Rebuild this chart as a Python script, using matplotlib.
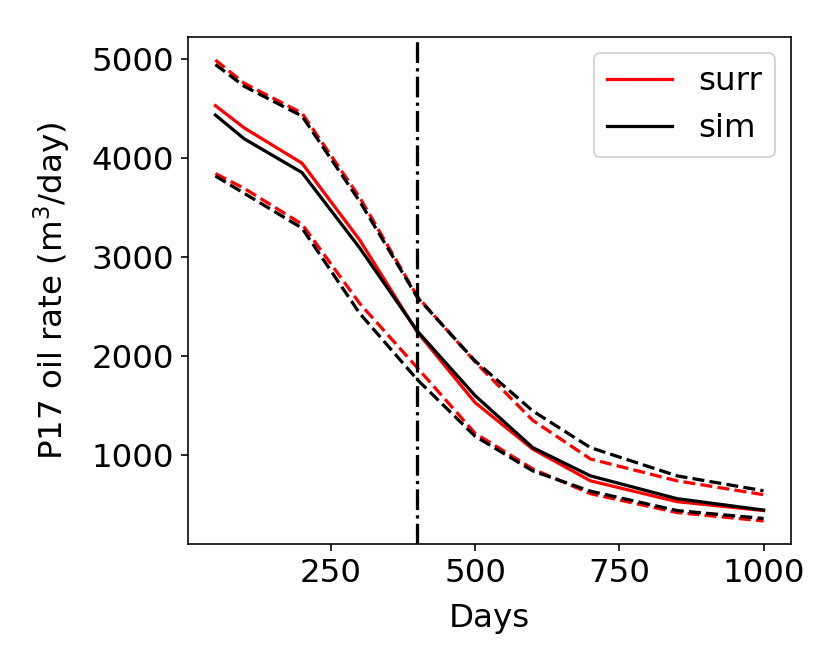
import matplotlib
matplotlib.use("Agg")
import matplotlib.pyplot as plt

days = [50, 100, 200, 300, 400, 500, 600, 700, 850, 1000]

surr_mean = [4525, 4300, 3945, 3170, 2240, 1530, 1060, 740, 530, 440]
surr_upper = [4985, 4750, 4450, 3600, 2600, 1940, 1350, 960, 740, 600]
surr_lower = [3840, 3690, 3330, 2530, 1880, 1220, 860, 610, 420, 335]

sim_mean = [4430, 4190, 3850, 3090, 2250, 1600, 1075, 790, 560, 445]
sim_upper = [4940, 4720, 4420, 3560, 2590, 1950, 1445, 1075, 790, 640]
sim_lower = [3815, 3640, 3290, 2430, 1760, 1190, 840, 635, 440, 360]

t_history = 400

plt.rcParams['font.size'] = 16

dpi = 146
fig = plt.figure(figsize=(830 / dpi, 664 / dpi), dpi=dpi)
ax = fig.add_axes([0.2265, 0.1807, 0.7265, 0.7636])

lw = 1.6
ax.plot(days, surr_mean, color='red', linewidth=lw, label="surr")
ax.plot(days, sim_mean, color='black', linewidth=lw, label="sim")
ax.plot(days, surr_upper, color='red', linestyle='--', linewidth=lw)
ax.plot(days, surr_lower, color='red', linestyle='--', linewidth=lw)
ax.plot(days, sim_upper, color='black', linestyle='--', linewidth=lw)
ax.plot(days, sim_lower, color='black', linestyle='--', linewidth=lw)
ax.axvline(t_history, color='black', linestyle='-.', linewidth=lw)

ax.set_xticks([250, 500, 750, 1000])
ax.set_yticks([1000, 2000, 3000, 4000, 5000])
ax.set_xlabel("Days", labelpad=7)
ax.set_ylabel("P17 oil rate (m$^3$/day)", labelpad=9)
ax.legend(loc='upper right')

fig.savefig("out.png", dpi=dpi)
